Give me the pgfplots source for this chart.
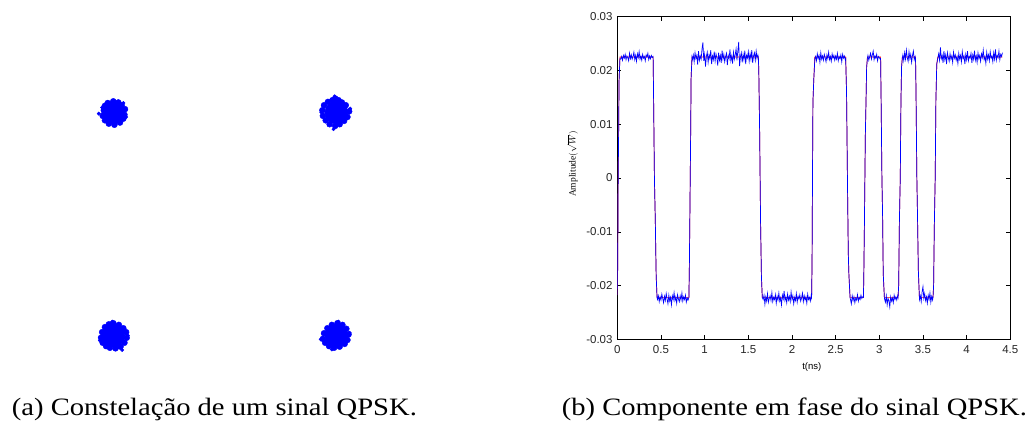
\documentclass[border=0pt]{standalone}
\usepackage{pgfplots}
\pgfplotsset{compat=1.18}
\usepackage{pgfplotstable}
\usepackage{graphicx}
\usepackage{fontspec}
\setmainfont{Liberation Serif}
\setsansfont{Liberation Sans}

% noisy received in-phase component (blue)
\pgfplotstableread[row sep=\\]{
t y\\
0 -0.0218\\ 0.005 -0.0160\\ 0.01 0\\ 0.015 0.0079\\ 0.02 0.0180\\ 0.03 0.0222\\
0.04 0.0221\\ 0.05 0.0226\\ 0.06 0.0219\\ 0.07 0.0228\\ 0.08 0.0223\\ 0.09 0.0230\\ 0.10 0.0220\\ 0.11 0.0227\\ 0.12 0.0224\\ 0.13 0.0218\\
0.14 0.0232\\ 0.15 0.0222\\ 0.16 0.0229\\ 0.17 0.0221\\ 0.18 0.0226\\ 0.19 0.0234\\ 0.20 0.0220\\ 0.21 0.0228\\ 0.22 0.0217\\ 0.23 0.0231\\
0.24 0.0224\\ 0.25 0.0235\\ 0.26 0.0221\\ 0.27 0.0227\\ 0.28 0.0219\\ 0.29 0.0230\\ 0.30 0.0223\\ 0.31 0.0226\\ 0.32 0.0218\\ 0.33 0.0229\\
0.34 0.0225\\ 0.35 0.0232\\ 0.36 0.0220\\ 0.37 0.0227\\ 0.38 0.0222\\ 0.39 0.0228\\ 0.40 0.0224\\
0.41 0.0226\\ 0.415 0.0157\\ 0.425 0\\ 0.435 -0.0079\\ 0.445 -0.0182\\ 0.455 -0.0222\\
0.46 -0.0226\\ 0.47 -0.0219\\ 0.48 -0.0230\\ 0.49 -0.0221\\ 0.50 -0.0227\\ 0.51 -0.0216\\ 0.52 -0.0224\\ 0.53 -0.0232\\ 0.54 -0.0220\\ 0.55 -0.0228\\
0.56 -0.0215\\ 0.57 -0.0225\\ 0.58 -0.0234\\ 0.59 -0.0218\\ 0.60 -0.0229\\ 0.61 -0.0222\\ 0.62 -0.0236\\ 0.63 -0.0219\\ 0.64 -0.0226\\ 0.65 -0.0213\\
0.66 -0.0228\\ 0.67 -0.0221\\ 0.68 -0.0233\\ 0.69 -0.0217\\ 0.70 -0.0225\\ 0.71 -0.0230\\ 0.72 -0.0219\\ 0.73 -0.0227\\ 0.74 -0.0214\\ 0.75 -0.0229\\
0.76 -0.0221\\ 0.77 -0.0226\\ 0.78 -0.0218\\ 0.79 -0.0231\\ 0.80 -0.0223\\ 0.81 -0.0227\\
0.82 -0.0222\\ 0.825 -0.0166\\ 0.83 -0.0087\\ 0.835 0\\ 0.84 0.0082\\ 0.845 0.0186\\ 0.855 0.0224\\
0.86 0.0220\\ 0.87 0.0229\\ 0.88 0.0216\\ 0.89 0.0233\\ 0.90 0.0222\\ 0.91 0.0228\\ 0.92 0.0211\\ 0.93 0.0236\\ 0.94 0.0219\\ 0.95 0.0227\\
0.96 0.0221\\ 0.97 0.0240\\ 0.98 0.0252\\ 0.99 0.0218\\ 1.00 0.0230\\ 1.01 0.0207\\ 1.02 0.0226\\ 1.03 0.0234\\ 1.04 0.0215\\ 1.05 0.0229\\
1.06 0.0222\\ 1.07 0.0238\\ 1.08 0.0212\\ 1.09 0.0227\\ 1.10 0.0220\\ 1.11 0.0235\\ 1.12 0.0217\\ 1.13 0.0231\\ 1.14 0.0224\\ 1.15 0.0209\\
1.16 0.0233\\ 1.17 0.0219\\ 1.18 0.0228\\ 1.19 0.0214\\ 1.20 0.0237\\ 1.21 0.0221\\ 1.22 0.0230\\ 1.23 0.0216\\ 1.24 0.0226\\ 1.25 0.0232\\
1.26 0.0210\\ 1.27 0.0228\\ 1.28 0.0222\\ 1.29 0.0239\\ 1.30 0.0218\\ 1.31 0.0227\\ 1.32 0.0213\\ 1.33 0.0234\\ 1.34 0.0221\\ 1.35 0.0229\\
1.36 0.0240\\ 1.37 0.0219\\ 1.38 0.0236\\ 1.39 0.0253\\ 1.40 0.0208\\ 1.41 0.0226\\ 1.42 0.0233\\ 1.43 0.0215\\ 1.44 0.0230\\ 1.45 0.0220\\
1.46 0.0237\\ 1.47 0.0212\\ 1.48 0.0228\\ 1.49 0.0223\\ 1.50 0.0235\\ 1.51 0.0217\\ 1.52 0.0231\\ 1.53 0.0221\\ 1.54 0.0238\\ 1.55 0.0214\\
1.56 0.0227\\ 1.57 0.0233\\ 1.58 0.0219\\ 1.59 0.0236\\ 1.60 0.0222\\ 1.61 0.0229\\
1.615 0.0225\\ 1.62 0.0201\\ 1.63 0.0085\\ 1.64 -0.0076\\ 1.65 -0.0182\\ 1.66 -0.0222\\
1.67 -0.0226\\ 1.68 -0.0218\\ 1.69 -0.0235\\ 1.70 -0.0221\\ 1.71 -0.0229\\ 1.72 -0.0215\\ 1.73 -0.0231\\ 1.74 -0.0224\\ 1.75 -0.0219\\ 1.76 -0.0228\\
1.77 -0.0213\\ 1.78 -0.0230\\ 1.79 -0.0222\\ 1.80 -0.0226\\ 1.81 -0.0217\\ 1.82 -0.0233\\ 1.83 -0.0220\\ 1.84 -0.0227\\ 1.85 -0.0214\\ 1.86 -0.0229\\
1.87 -0.0223\\ 1.88 -0.0236\\ 1.89 -0.0218\\ 1.90 -0.0225\\ 1.91 -0.0210\\ 1.92 -0.0228\\ 1.93 -0.0221\\ 1.94 -0.0232\\ 1.95 -0.0216\\ 1.96 -0.0227\\
1.97 -0.0220\\ 1.98 -0.0230\\ 1.99 -0.0212\\ 2.00 -0.0226\\ 2.01 -0.0219\\ 2.02 -0.0234\\ 2.03 -0.0222\\ 2.04 -0.0228\\ 2.05 -0.0215\\ 2.06 -0.0231\\
2.07 -0.0220\\ 2.08 -0.0225\\ 2.09 -0.0217\\ 2.10 -0.0229\\ 2.11 -0.0223\\ 2.12 -0.0214\\ 2.13 -0.0230\\ 2.14 -0.0219\\ 2.15 -0.0227\\ 2.16 -0.0221\\
2.17 -0.0233\\ 2.18 -0.0216\\ 2.19 -0.0226\\ 2.20 -0.0222\\ 2.21 -0.0229\\ 2.22 -0.0218\\
2.225 -0.0222\\ 2.23 -0.0156\\ 2.235 0\\ 2.24 0.0141\\ 2.25 0.0184\\ 2.262 0.0222\\
2.27 0.0226\\ 2.28 0.0218\\ 2.29 0.0231\\ 2.30 0.0222\\ 2.31 0.0228\\ 2.32 0.0215\\ 2.33 0.0233\\ 2.34 0.0221\\ 2.35 0.0227\\ 2.36 0.0219\\
2.37 0.0230\\ 2.38 0.0224\\ 2.39 0.0216\\ 2.40 0.0229\\ 2.41 0.0222\\ 2.42 0.0234\\ 2.43 0.0220\\ 2.44 0.0226\\ 2.45 0.0217\\ 2.46 0.0231\\
2.47 0.0223\\ 2.48 0.0228\\ 2.49 0.0219\\ 2.50 0.0227\\ 2.51 0.0221\\ 2.52 0.0232\\ 2.53 0.0218\\ 2.54 0.0226\\ 2.55 0.0222\\ 2.56 0.0229\\
2.57 0.0216\\ 2.58 0.0230\\ 2.59 0.0223\\ 2.60 0.0227\\ 2.61 0.0220\\
2.615 0.0222\\ 2.625 0.0159\\ 2.635 0\\ 2.645 -0.0141\\ 2.652 -0.0180\\ 2.665 -0.0222\\
2.67 -0.0226\\ 2.68 -0.0234\\ 2.69 -0.0219\\ 2.70 -0.0228\\ 2.71 -0.0221\\ 2.72 -0.0232\\ 2.73 -0.0223\\ 2.74 -0.0227\\ 2.75 -0.0217\\ 2.76 -0.0229\\
2.77 -0.0222\\ 2.78 -0.0226\\ 2.79 -0.0218\\ 2.80 -0.0224\\ 2.81 -0.0221\\
2.818 -0.0222\\ 2.822 -0.0190\\ 2.83 -0.0079\\ 2.84 0.0079\\ 2.848 0.0144\\ 2.855 0.0206\\ 2.864 0.0223\\
2.87 0.0228\\ 2.88 0.0219\\ 2.89 0.0226\\ 2.90 0.0232\\ 2.91 0.0221\\ 2.92 0.0229\\ 2.93 0.0236\\ 2.94 0.0220\\ 2.95 0.0227\\ 2.96 0.0223\\
2.97 0.0230\\ 2.98 0.0218\\ 2.99 0.0226\\ 3.00 0.0224\\ 3.01 0.0221\\
3.015 0.0222\\ 3.02 0.0156\\ 3.03 0\\ 3.038 -0.0073\\ 3.045 -0.0178\\ 3.058 -0.0222\\
3.06 -0.0225\\ 3.07 -0.0231\\ 3.08 -0.0219\\ 3.09 -0.0236\\ 3.10 -0.0224\\ 3.11 -0.0228\\ 3.12 -0.0240\\ 3.13 -0.0221\\ 3.14 -0.0229\\ 3.15 -0.0223\\
3.16 -0.0232\\ 3.17 -0.0218\\ 3.18 -0.0226\\ 3.19 -0.0221\\ 3.20 -0.0227\\ 3.21 -0.0219\\
3.215 -0.0222\\ 3.222 -0.0199\\ 3.23 -0.0082\\ 3.24 0\\ 3.248 0.0144\\ 3.255 0.0207\\ 3.264 0.0223\\
3.27 0.0229\\ 3.28 0.0218\\ 3.29 0.0233\\ 3.30 0.0221\\ 3.31 0.0238\\ 3.32 0.0224\\ 3.33 0.0217\\ 3.34 0.0235\\ 3.35 0.0222\\ 3.36 0.0230\\
3.37 0.0215\\ 3.38 0.0228\\ 3.39 0.0236\\ 3.40 0.0220\\ 3.41 0.0226\\
3.415 0.0222\\ 3.42 0.0165\\ 3.43 0\\ 3.438 -0.0076\\ 3.447 -0.0172\\ 3.459 -0.0222\\
3.46 -0.0226\\ 3.47 -0.0219\\ 3.48 -0.0230\\ 3.49 -0.0212\\ 3.50 -0.0202\\ 3.51 -0.0224\\ 3.52 -0.0215\\ 3.53 -0.0228\\ 3.54 -0.0221\\ 3.55 -0.0233\\
3.56 -0.0218\\ 3.57 -0.0226\\ 3.58 -0.0214\\ 3.59 -0.0231\\ 3.60 -0.0220\\ 3.61 -0.0227\\
3.615 -0.0222\\ 3.622 -0.0199\\ 3.63 -0.0089\\ 3.64 0\\ 3.648 0.0144\\ 3.658 0.0212\\ 3.67 0.0223\\
3.68 0.0231\\ 3.69 0.0219\\ 3.70 0.0243\\ 3.71 0.0222\\ 3.72 0.0228\\ 3.73 0.0214\\ 3.74 0.0236\\ 3.75 0.0220\\ 3.76 0.0229\\ 3.77 0.0212\\
3.78 0.0233\\ 3.79 0.0224\\ 3.80 0.0217\\ 3.81 0.0231\\ 3.82 0.0221\\ 3.83 0.0227\\ 3.84 0.0215\\ 3.85 0.0234\\ 3.86 0.0223\\ 3.87 0.0229\\
3.88 0.0219\\ 3.89 0.0226\\ 3.90 0.0213\\ 3.91 0.0232\\ 3.92 0.0221\\ 3.93 0.0228\\ 3.94 0.0216\\ 3.95 0.0235\\ 3.96 0.0222\\ 3.97 0.0227\\
3.98 0.0212\\ 3.99 0.0230\\ 4.00 0.0220\\ 4.01 0.0236\\ 4.02 0.0218\\ 4.03 0.0226\\ 4.04 0.0223\\ 4.05 0.0232\\ 4.06 0.0214\\ 4.07 0.0229\\
4.08 0.0221\\ 4.09 0.0237\\ 4.10 0.0219\\ 4.11 0.0227\\ 4.12 0.0215\\ 4.13 0.0233\\ 4.14 0.0222\\ 4.15 0.0228\\ 4.16 0.0217\\ 4.17 0.0231\\
4.18 0.0224\\ 4.19 0.0238\\ 4.20 0.0220\\ 4.21 0.0226\\ 4.22 0.0213\\ 4.23 0.0234\\ 4.24 0.0221\\ 4.25 0.0229\\ 4.26 0.0218\\ 4.27 0.0235\\
4.28 0.0223\\ 4.29 0.0227\\ 4.30 0.0216\\ 4.31 0.0233\\ 4.32 0.0221\\ 4.33 0.0239\\ 4.34 0.0219\\ 4.35 0.0228\\ 4.36 0.0224\\ 4.37 0.0236\\
4.38 0.0220\\ 4.39 0.0230\\ 4.40 0.0226\\ 4.41 0.0233\\
}\sigtable

\begin{document}
\begin{tikzpicture}
\useasboundingbox (0pt,0pt) rectangle (1034pt,426pt);

% ---------- (a) constellation ----------
\begin{axis}[at={(91pt,68.2pt)}, anchor=south west, scale only axis,
  width=267.6pt, height=267.6pt,
  xmin=-1.2, xmax=1.2, ymin=-1.2, ymax=1.2, hide axis, clip=false]
\addplot[only marks, mark=*, mark size=11.5pt, mark options={draw=blue, fill=blue}]
  coordinates {(-1,1) (1,1) (-1,-1) (1,-1)};
\addplot[only marks, mark=*, mark size=3pt, mark options={draw=blue, fill=blue}]
  coordinates {
  (-1.085,1.02) (-1.075,1.06) (-1.05,1.085) (-1.00,1.10) (-0.955,1.09) (-0.925,1.065) (-0.895,1.03)
  (-0.90,0.98) (-0.91,0.945) (-0.94,0.91) (-0.99,0.89) (-1.04,0.90) (-1.075,0.93) (-1.095,0.97)
  (0.875,1.02) (0.89,1.065) (0.925,1.095) (0.965,1.11) (0.99,1.125) (1.02,1.11) (1.05,1.09)
  (1.085,1.065) (1.115,1.01) (1.10,0.96) (1.07,0.925) (1.03,0.895) (0.99,0.88)
  (0.94,0.895) (0.905,0.93) (0.88,0.97)
  (-1.10,-0.97) (-1.11,-1.02) (-1.095,-1.065) (-1.065,-1.095) (-1.03,-1.11) (-0.98,-1.115)
  (-0.935,-1.10) (-0.90,-1.065) (-0.88,-1.02) (-0.885,-0.97) (-0.91,-0.935) (-0.95,-0.905)
  (-1.00,-0.89) (-1.04,-0.90) (-1.075,-0.925)
  (0.88,-1.03) (0.89,-0.98) (0.92,-0.935) (0.96,-0.905) (1.01,-0.89) (1.055,-0.905) (1.09,-0.94)
  (1.11,-0.99) (1.10,-1.04) (1.075,-1.075) (1.03,-1.10) (0.98,-1.11) (0.935,-1.095) (0.90,-1.065)
  };
\addplot[only marks, mark=*, mark size=1.7pt, mark options={draw=blue, fill=blue}]
  coordinates {(-1.13,0.99) (-1.10,1.045) (-0.91,1.085) (-0.885,0.96)
  (0.985,1.145) (0.975,0.85) (1.125,1.035) (0.865,1.00)
  (-0.92,-1.13) (-1.12,-1.045) (-0.87,-1.00) (-1.01,-0.875)
  (0.86,-1.035) (1.12,-0.975) (1.02,-0.875) (0.96,-1.125)};
\end{axis}

% ---------- (b) in-phase component ----------
\begin{axis}[at={(617.3pt,86.7pt)}, anchor=south west, scale only axis,
  width=393pt, height=322.6pt,
  xmin=0, xmax=4.5, ymin=-0.03, ymax=0.03,
  xtick={0,0.5,1,1.5,2,2.5,3,3.5,4,4.5},
  xticklabels={0,0.5,1,1.5,2,2.5,3,3.5,4,4.5},
  ytick={-0.03,-0.02,-0.01,0,0.01,0.02,0.03},
  yticklabels={-0.03,-0.02,-0.01,0,0.01,0.02,0.03},
  scaled y ticks=false, scaled x ticks=false,
  tick align=inside, major tick length=4pt,
  axis line style={black, line width=0.7pt},
  tick style={black, line width=0.5pt},
  ticklabel style={font=\sffamily\fontsize{11.5}{13}\selectfont, inner sep=0pt, text=black!85},
  yticklabel style={xshift=-4.6pt},
  xticklabel style={yshift=-5.7pt},
  xlabel={t(ns)},
  xlabel style={font=\sffamily\fontsize{9.5}{11}\selectfont, at={(axis description cs:0.495,-0.085)}, anchor=center},
  ylabel={$\mathrm{Amplitude}(\sqrt{W})$},
  ylabel style={font=\fontsize{9.5}{11}\selectfont, at={(axis description cs:-0.114,0.543)}, anchor=center},
  clip=true]
\addplot[red, line width=0.7pt] coordinates {
(0,-0.0218)(0.005,-0.016)(0.01,0)(0.015,0.0079)(0.02,0.018)(0.03,0.0225)(0.41,0.0225)
(0.415,0.0157)(0.425,0)(0.435,-0.0079)(0.445,-0.0182)(0.455,-0.0222)(0.82,-0.0222)
(0.825,-0.0166)(0.83,-0.0087)(0.835,0)(0.84,0.0082)(0.845,0.0186)(0.855,0.0225)(1.615,0.0225)
(1.62,0.0201)(1.63,0.0085)(1.64,-0.0076)(1.65,-0.0182)(1.66,-0.0222)(2.225,-0.0222)
(2.23,-0.0156)(2.235,0)(2.24,0.0141)(2.25,0.0184)(2.262,0.0225)(2.615,0.0225)
(2.625,0.0159)(2.635,0)(2.645,-0.0141)(2.652,-0.018)(2.665,-0.0222)(2.818,-0.0222)
(2.822,-0.019)(2.83,-0.0079)(2.84,0.0079)(2.848,0.0144)(2.855,0.0206)(2.864,0.0225)(3.015,0.0225)
(3.02,0.0156)(3.03,0)(3.038,-0.0073)(3.045,-0.0178)(3.058,-0.0222)(3.215,-0.0222)
(3.222,-0.0199)(3.23,-0.0082)(3.24,0)(3.248,0.0144)(3.255,0.0207)(3.264,0.0225)(3.415,0.0225)
(3.42,0.0165)(3.43,0)(3.438,-0.0076)(3.447,-0.0172)(3.459,-0.0222)(3.615,-0.0222)
(3.622,-0.0199)(3.63,-0.0089)(3.64,0)(3.648,0.0144)(3.658,0.0212)(3.67,0.0225)(4.41,0.0225)};
\addplot[blue, line width=0.7pt] table[x=t, y=y] {\sigtable};
\end{axis}

% ---------- captions ----------
\node[anchor=base west, inner sep=0pt] at (11.7pt,10.5pt)
  {\resizebox{405pt}{\height}{\fontsize{25}{29}\selectfont (a) Constelação de um sinal QPSK.}};
\node[anchor=base west, inner sep=0pt] at (561.7pt,10.5pt)
  {\resizebox{465pt}{\height}{\fontsize{25}{29}\selectfont (b) Componente em fase do sinal QPSK.}};
\end{tikzpicture}
\end{document}
